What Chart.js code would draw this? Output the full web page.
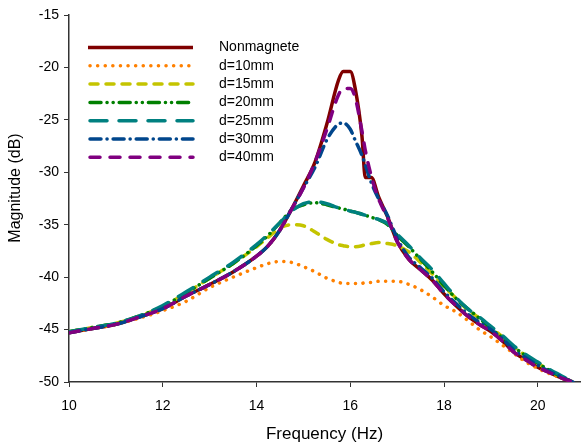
<!DOCTYPE html>
<html>
<head>
<meta charset="utf-8">
<script src="https://cdn.jsdelivr.net/npm/chart.js@4.4.1/dist/chart.umd.min.js"></script>
<style>
html,body{margin:0;padding:0;background:#fff;}
#wrap{width:582px;height:445px;position:relative;}
</style>
</head>
<body>
<div id="wrap"><canvas id="c" width="582" height="445"></canvas></div>
<script>
const freq = [10,10.5,11,11.5,12,12.5,13,13.5,14,14.25,14.5,14.75,15,15.25,15.5,15.75,15.85,16,16.1,16.25,16.32,16.45,16.6,16.8,17,17.25,17.5,17.75,18,18.25,18.5,18.75,19,19.25,19.5,19.75,20,20.25,20.5,20.75];

const nonmagnet = [-45.3,-44.9,-44.5,-43.8,-43.0,-41.8,-40.7,-39.5,-38.0,-37.0,-35.5,-33.5,-31.3,-29.0,-25.4,-21.2,-20.4,-20.4,-21.9,-26.6,-30.5,-30.5,-32.3,-34.3,-36.6,-38.3,-39.3,-40.3,-41.6,-42.7,-43.7,-44.5,-45.2,-46.1,-47.2,-47.9,-48.6,-49.1,-49.6,-50.0];
const d10 = [-45.3,-44.9,-44.5,-43.9,-43.2,-42.3,-41.0,-40.0,-39.1,-38.7,-38.5,-38.6,-39.0,-39.5,-40.1,-40.5,-40.6,-40.6,-40.6,-40.6,-40.5,-40.5,-40.4,-40.4,-40.4,-40.7,-41.2,-41.9,-42.7,-43.3,-44.1,-45.0,-45.7,-46.5,-47.3,-48.1,-48.7,-49.2,-49.6,-50.0];
const d15 = [-45.2,-44.8,-44.4,-43.7,-42.8,-41.5,-40.1,-38.7,-37.1,-36.2,-35.3,-35.0,-35.1,-35.7,-36.4,-36.9,-37.0,-37.1,-37.1,-37.0,-36.9,-36.8,-36.7,-36.8,-37.0,-37.6,-38.6,-39.7,-40.9,-42.0,-43.1,-43.9,-44.8,-45.7,-46.7,-47.5,-48.2,-48.9,-49.5,-50.0];
const d20 = [-45.2,-44.8,-44.4,-43.7,-42.8,-41.5,-40.1,-38.7,-37.0,-36.0,-34.8,-33.6,-33.1,-32.9,-33.1,-33.4,-33.5,-33.7,-33.8,-34.0,-34.1,-34.3,-34.5,-35.0,-36.0,-37.1,-38.3,-39.5,-40.8,-42.0,-43.0,-43.9,-44.9,-45.8,-46.7,-47.5,-48.2,-48.9,-49.5,-50.0];
const d25 = [-45.2,-44.8,-44.4,-43.7,-42.7,-41.4,-40.0,-38.6,-36.9,-35.9,-34.8,-33.7,-33.0,-32.8,-33.0,-33.4,-33.5,-33.7,-33.8,-34.0,-34.1,-34.3,-34.5,-34.9,-35.9,-37.0,-38.2,-39.3,-40.6,-41.9,-43.0,-43.8,-44.7,-45.6,-46.6,-47.4,-48.1,-48.8,-49.4,-50.0];
const d30 = [-45.3,-44.9,-44.5,-43.8,-43.0,-41.8,-40.7,-39.5,-38.0,-37.0,-35.5,-33.5,-31.5,-29.5,-26.9,-25.4,-25.3,-25.9,-26.9,-28.4,-29.3,-31.0,-32.5,-34.2,-36.3,-38.1,-39.1,-40.1,-41.4,-42.5,-43.5,-44.3,-45.0,-45.9,-47.0,-47.7,-48.4,-49.0,-49.5,-50.0];
const d40 = [-45.3,-44.9,-44.5,-43.8,-43.0,-41.8,-40.7,-39.5,-38.0,-37.0,-35.5,-33.5,-31.5,-29.0,-25.9,-22.6,-22.0,-22.0,-22.8,-26.1,-27.9,-30.4,-32.5,-34.4,-36.6,-38.3,-39.3,-40.3,-41.6,-42.7,-43.7,-44.5,-45.2,-46.1,-47.2,-47.9,-48.6,-49.1,-49.6,-50.0];

const seriesNames = ['Nonmagnete','d=10mm','d=15mm','d=20mm','d=25mm','d=30mm','d=40mm'];
const seriesValues = [nonmagnet,d10,d15,d20,d25,d30,d40];
const seriesColors = ['#7f0000','#ff8000','#c4c400','#008000','#008080','#00468c','#800080'];
const seriesDash = [[], [0.1,7.5], [8,8], [11,6,0.1,6,0.1,6], [17,12], [11,6,0.1,6], [10,10]];
const yTicks = [-50,-45,-40,-35,-30,-25,-20,-15];
const xTicks = [10,12,14,16,18,20];
const yTitle = 'Magnitude (dB)';
const xTitle = 'Frequency (Hz)';

const FONT = 'Liberation Sans, Arial, sans-serif';

const datasets = seriesNames.map((n,i)=>({
  label:n,
  data: freq.map((f,j)=>({x:f,y:seriesValues[i][j]})),
  borderColor: seriesColors[i],
  backgroundColor: seriesColors[i],
  borderWidth: 3.5,
  borderDash: seriesDash[i],
  borderCapStyle: i===0 ? 'butt' : 'round',
  borderJoinStyle: 'round',
  pointRadius: 0,
  cubicInterpolationMode: 'monotone',
  fill: false,
  order: seriesNames.length - i
}));

const legendPlugin = {
  id:'insideLegend',
  afterDatasetsDraw(chart){
    const ctx = chart.ctx;
    ctx.save();
    const x0 = 88, x1 = 193, tx = 219, y0 = 47.5, dy = 18.3;
    chart.data.datasets.forEach((ds,i)=>{
      const y = y0 + i*dy;
      ctx.beginPath();
      ctx.strokeStyle = ds.borderColor;
      ctx.lineWidth = ds.borderWidth;
      ctx.lineCap = ds.borderCapStyle;
      ctx.setLineDash(ds.borderDash);
      ctx.moveTo(x0 + (i===0?0:2), y);
      ctx.lineTo(x1, y);
      ctx.stroke();
      ctx.setLineDash([]);
      ctx.fillStyle = '#000';
      ctx.font = '14px ' + FONT;
      ctx.textBaseline = 'middle';
      ctx.textAlign = 'left';
      ctx.fillText(ds.label, tx, y);
    });
    // y-axis title
    ctx.translate(16, 188);
    ctx.rotate(-Math.PI/2);
    ctx.font = '16px ' + FONT;
    ctx.textAlign = 'center';
    ctx.textBaseline = 'middle';
    ctx.fillText(yTitle, 0, 0);
    ctx.restore();
  }
};

new Chart(document.getElementById('c'), {
  type:'line',
  data:{datasets},
  plugins:[legendPlugin],
  options:{
    responsive:false,
    animation:false,
    devicePixelRatio:1,
    layout:{padding:{top:15,right:2,left:0,bottom:0}},
    plugins:{legend:{display:false},tooltip:{enabled:false}},
    scales:{
      x:{
        type:'linear', min:10, max:20.9,
        afterFit(s){ s.height = 63; },
        afterBuildTicks(s){ s.ticks = xTicks.map(v=>({value:v})); },
        ticks:{color:'#000', font:{family:FONT,size:14}, padding:11, maxRotation:0, includeBounds:false},
        grid:{drawOnChartArea:false, drawTicks:true, tickLength:5, color:'#333', lineWidth:1},
        border:{display:true,color:'#333',width:1.5},
        title:{display:true,text:xTitle,color:'#000',font:{family:FONT,size:17},padding:{top:4,bottom:0}}
      },
      y:{
        type:'linear', min:-50, max:-15,
        afterFit(s){ s.width = 69; },
        afterBuildTicks(s){ s.ticks = yTicks.map(v=>({value:v})); },
        ticks:{color:'#000', font:{family:FONT,size:14}, padding:5},
        grid:{drawOnChartArea:false, drawTicks:true, tickLength:5, color:'#333', lineWidth:1},
        border:{display:true,color:'#333',width:1.5},
        title:{display:false}
      }
    }
  }
});
</script>
</body>
</html>
